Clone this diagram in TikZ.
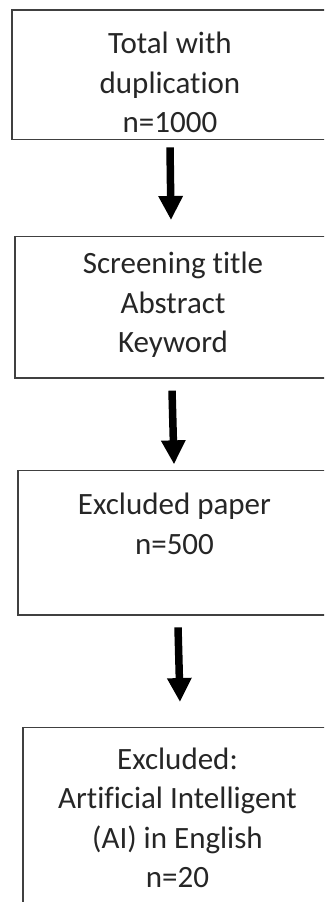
\documentclass[tikz,border=0pt]{standalone}
\usepackage{fontspec}
\setmainfont[Ligatures=NoCommon]{Carlito}
\usetikzlibrary{arrows.meta}
\tikzset{
  box/.style={draw=black!75, line width=1.3pt, rectangle, inner sep=0pt},
  label/.style={align=center, font=\fontsize{31}{39.5}\selectfont, text=black!85, inner sep=0pt},
  arr/.style={line width=7.5pt, -{Triangle[width=23pt,length=24pt]}, black}
}
\begin{document}
\begin{tikzpicture}[x=1pt,y=-1pt]
\useasboundingbox (0,0) rectangle (324,902);
\clip (0,0) rectangle (324,902);
\fill[white] (0,0) rectangle (324,902);
\node[box, minimum width=316pt, minimum height=129.5pt] (b1) at (170,74.75) {};
\node[box, minimum width=317pt, minimum height=141.3pt] (b2) at (173.5,307.35) {};
\node[box, minimum width=314pt, minimum height=144.3pt] (b3) at (175,542.85) {};
\node[box, minimum width=310pt, minimum height=202.5pt] (b4) at (178,828.75) {};
\node[label] (t1) at (170,82.5) {Total with\\duplication\\n=1000};
\node[label] (t2) at (173,305) {Screening title\\Abstract\\Keyword};
\node[label] (t3) at (174.5,524) {Excluded paper\\n=500};
\node[label] (t4) at (177.5,818) {Excluded:\\Artificial Intelligent\\(AI) in English\\n=20};
\draw[arr] ([yshift=-7.2pt]b1.south) -- ([xshift=-2.5pt,yshift=16pt]b2.north);
\draw[arr] ([xshift=-1.5pt,yshift=-12pt]b2.south) -- ([xshift=-1pt,yshift=5.7pt]b3.north);
\draw[arr] ([xshift=3pt,yshift=-11.7pt]b3.south) -- ([xshift=2pt,yshift=24.8pt]b4.north);
\end{tikzpicture}
\end{document}
